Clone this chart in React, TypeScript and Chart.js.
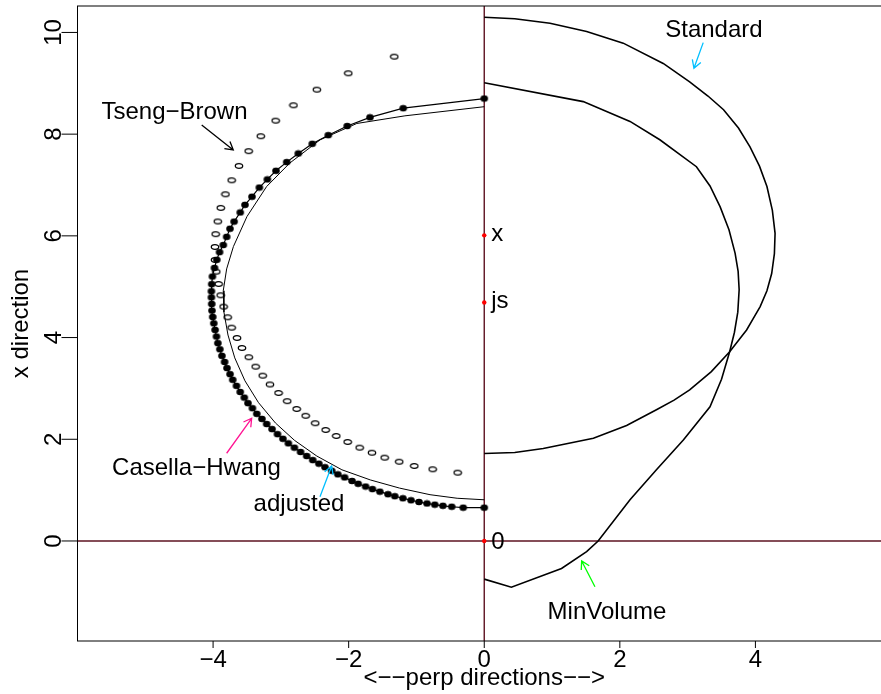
import React, { useEffect, useRef } from 'react';
import { Chart, registerables } from 'chart.js';

Chart.register(...registerables);

// ---------------- data ----------------
const xTicks = [-4, -2, 0, 2, 4];
const yTicks = [0, 2, 4, 6, 8, 10];
const xTickLabels = ['\u22124', '\u22122', '0', '2', '4'];
const yTickLabels = ['0', '2', '4', '6', '8', '10'];

const standardX = [0, 0.45, 0.97, 1.51, 2.05, 2.64, 3.03, 3.3, 3.53, 3.75, 3.92, 4.06, 4.17, 4.25, 4.29, 4.28, 4.24, 4.17, 4.07, 3.98, 3.87, 3.62, 3.35, 3.03, 2.8, 2.54, 2.1, 1.61, 0.87, 0.45, 0];
const standardY = [10.3, 10.27, 10.18, 10.02, 9.79, 9.39, 9.03, 8.75, 8.48, 8.12, 7.75, 7.37, 6.97, 6.5, 6.05, 5.65, 5.26, 4.92, 4.61, 4.4, 4.15, 3.72, 3.33, 2.97, 2.77, 2.58, 2.27, 2.02, 1.82, 1.74, 1.72];

const minVolX = [0, 1.46, 2.15, 2.59, 3.13, 3.33, 3.48, 3.61, 3.7, 3.745, 3.76, 3.74, 3.69, 3.62, 3.5, 3.33, 2.94, 2.54, 2.15, 1.68, 1.51, 1.14, 0.4, 0];
const minVolY = [9.01, 8.64, 8.25, 7.89, 7.36, 6.98, 6.57, 6.12, 5.66, 5.3, 4.94, 4.5, 4.1, 3.72, 3.18, 2.64, 1.99, 1.4, 0.81, 0, -0.21, -0.54, -0.91, -0.75];

const chX = [0, -1.195, -1.686, -2.021, -2.301, -2.537, -2.743, -2.914, -3.072, -3.2, -3.318, -3.426, -3.53, -3.6, -3.69, -3.751, -3.8, -3.85, -3.905, -3.945, -3.98, -4.01, -4.02, -4.025, -4.025, -4.02, -4.016, -4.005, -3.99, -3.97, -3.95, -3.93, -3.9, -3.87, -3.83, -3.795, -3.75, -3.71, -3.655, -3.6, -3.54, -3.485, -3.42, -3.355, -3.28, -3.21, -3.13, -3.05, -2.97, -2.89, -2.8, -2.71, -2.62, -2.53, -2.44, -2.35, -2.25, -2.16, -2.06, -1.95, -1.86, -1.75, -1.65, -1.54, -1.42, -1.32, -1.2, -1.08, -0.963, -0.845, -0.73, -0.61, -0.48, -0.31, 0];
const chY = [8.7, 8.51, 8.33, 8.16, 7.98, 7.81, 7.62, 7.45, 7.28, 7.11, 6.95, 6.77, 6.61, 6.46, 6.28, 6.14, 5.98, 5.82, 5.68, 5.53, 5.37, 5.2, 5.05, 4.91, 4.79, 4.66, 4.53, 4.405, 4.28, 4.15, 4.02, 3.89, 3.77, 3.64, 3.52, 3.4, 3.28, 3.17, 3.05, 2.93, 2.82, 2.71, 2.61, 2.5, 2.4, 2.3, 2.2, 2.1, 2.01, 1.92, 1.835, 1.75, 1.67, 1.59, 1.52, 1.45, 1.38, 1.31, 1.25, 1.18, 1.125, 1.07, 1.02, 0.97, 0.92, 0.88, 0.84, 0.8, 0.767, 0.737, 0.714, 0.692, 0.673, 0.655, 0.655];

const adjX = [0, -1.17, -1.88, -2.42, -2.87, -3.21, -3.5, -3.7, -3.8, -3.85, -3.84, -3.78, -3.68, -3.53, -3.33, -3.08, -2.8, -2.47, -2.1, -1.68, -1.25, -0.8, -0.4, 0];
const adjY = [8.54, 8.36, 8.21, 7.89, 7.43, 6.97, 6.38, 5.79, 5.35, 4.92, 4.5, 4.05, 3.6, 3.15, 2.72, 2.32, 1.98, 1.67, 1.4, 1.2, 1.04, 0.91, 0.84, 0.81];

const tbX = [-1.327, -2.006, -2.469, -2.814, -3.077, -3.296, -3.475, -3.618, -3.726, -3.817, -3.886, -3.931, -3.962, -3.972, -3.972, -3.953, -3.919, -3.888, -3.845, -3.785, -3.726, -3.647, -3.574, -3.473, -3.372, -3.268, -3.161, -3.035, -2.906, -2.767, -2.634, -2.493, -2.339, -2.183, -2.015, -1.838, -1.656, -1.469, -1.254, -1.032, -0.761, -0.392];
const tbY = [9.524, 9.197, 8.875, 8.568, 8.265, 7.959, 7.666, 7.375, 7.093, 6.818, 6.549, 6.283, 6.033, 5.782, 5.526, 5.296, 5.054, 4.832, 4.608, 4.399, 4.195, 3.992, 3.795, 3.613, 3.428, 3.251, 3.078, 2.911, 2.749, 2.596, 2.462, 2.315, 2.183, 2.065, 1.947, 1.835, 1.736, 1.638, 1.559, 1.475, 1.41, 1.343];

const refPtX = [0, 0, 0];
const refPtY = [0, 4.69, 6.01];
const refPtLabels = ['0', 'js', 'x'];

const noteLabels = ['Tseng\u2212Brown', 'Casella\u2212Hwang', 'adjusted', 'Standard', 'MinVolume'];
const noteX = [-4.569, -4.245, -2.733, 3.388, 1.81];
const noteY = [8.299, 1.298, 0.59, 9.906, -1.54];

const arrowFromX = [-4.168, -3.8, -2.423, 3.23, 1.633];
const arrowFromY = [8.181, 1.725, 0.871, 9.8, -0.899];
const arrowToX = [-3.702, -3.431, -2.251, 3.093, 1.437];
const arrowToY = [7.689, 2.413, 1.475, 9.296, -0.393];
const arrowColors = ['#000000', '#FF1493', '#00BFFF', '#00BFFF', '#00FF00'];

const xTitle = '<\u2212\u2212perp directions\u2212\u2212>';
const yTitle = 'x direction';

const toPts = (xs: number[], ys: number[]) => xs.map((x, i) => ({ x, y: ys[i] }));

const FONT = '"Liberation Sans", Arial, Helvetica, sans-serif';

function makeDot(filled: boolean): HTMLCanvasElement {
  const c = document.createElement('canvas');
  c.width = 10;
  c.height = 8;
  const g = c.getContext('2d')!;
  g.beginPath();
  if (filled) {
    g.ellipse(5, 4, 3.8, 3.3, 0, 0, Math.PI * 2);
    g.fillStyle = '#000';
    g.fill();
  } else {
    g.ellipse(5, 4, 3.7, 2.3, 0, 0, Math.PI * 2);
    g.strokeStyle = '#000';
    g.lineWidth = 1.3;
    g.stroke();
  }
  return c;
}

const rPlugin = {
  id: 'rstyle',
  beforeDatasetsDraw(chart: any) {
    const { ctx, chartArea: a, scales } = chart;
    const xs = scales.x, ys = scales.y;
    ctx.save();
    ctx.strokeStyle = '#5e1322';
    ctx.lineWidth = 1.4;
    const px0 = xs.getPixelForValue(0);
    const py0 = ys.getPixelForValue(0);
    ctx.beginPath();
    ctx.moveTo(px0, a.top);
    ctx.lineTo(px0, a.bottom);
    ctx.moveTo(a.left, py0);
    ctx.lineTo(a.right, py0);
    ctx.stroke();
    ctx.restore();
  },
  afterDraw(chart: any) {
    const { ctx, chartArea: a, scales } = chart;
    const xs = scales.x, ys = scales.y;
    ctx.save();
    // box
    ctx.strokeStyle = '#000';
    ctx.lineWidth = 1;
    ctx.strokeRect(a.left, a.top, a.right - a.left, a.bottom - a.top);
    // x ticks
    ctx.fillStyle = '#000';
    ctx.font = `24px ${FONT}`;
    ctx.textAlign = 'center';
    ctx.textBaseline = 'alphabetic';
    xTicks.forEach((v, i) => {
      const px = xs.getPixelForValue(v);
      ctx.beginPath();
      ctx.moveTo(px, a.bottom);
      ctx.lineTo(px, a.bottom + 7);
      ctx.stroke();
      ctx.fillText(xTickLabels[i], px, a.bottom + 26);
    });
    // y ticks
    yTicks.forEach((v, i) => {
      const py = ys.getPixelForValue(v);
      ctx.beginPath();
      ctx.moveTo(a.left, py);
      ctx.lineTo(a.left - 16, py);
      ctx.stroke();
      ctx.save();
      ctx.translate(a.left - 16.5, py);
      ctx.rotate(-Math.PI / 2);
      ctx.fillText(yTickLabels[i], 0, 0);
      ctx.restore();
    });
    // axis titles
    ctx.fillText(xTitle, xs.getPixelForValue(0), a.bottom + 44);
    ctx.save();
    ctx.translate(a.left - 50, (a.top + a.bottom) / 2);
    ctx.rotate(-Math.PI / 2);
    ctx.fillText(yTitle, 0, 0);
    ctx.restore();

    // reference point labels
    ctx.textAlign = 'left';
    refPtLabels.forEach((t, i) => {
      const px = xs.getPixelForValue(refPtX[i]);
      const py = ys.getPixelForValue(refPtY[i]);
      const off = t === '0' ? 8.5 : 6;
      ctx.fillText(t, px + 7, py + off);
    });

    // annotations
    ctx.textAlign = 'center';
    noteLabels.forEach((t, i) => {
      ctx.fillText(t, xs.getPixelForValue(noteX[i]), ys.getPixelForValue(noteY[i]));
    });

    // arrows
    arrowColors.forEach((col, i) => {
      const x1 = xs.getPixelForValue(arrowFromX[i]);
      const y1 = ys.getPixelForValue(arrowFromY[i]);
      const x2 = xs.getPixelForValue(arrowToX[i]);
      const y2 = ys.getPixelForValue(arrowToY[i]);
      const ang = Math.atan2(y2 - y1, x2 - x1);
      const L = 9;
      const sp = Math.PI / 6;
      ctx.strokeStyle = col;
      ctx.lineWidth = 1.3;
      ctx.beginPath();
      ctx.moveTo(x1, y1);
      ctx.lineTo(x2, y2);
      ctx.moveTo(x2 - L * Math.cos(ang - sp), y2 - L * Math.sin(ang - sp));
      ctx.lineTo(x2, y2);
      ctx.lineTo(x2 - L * Math.cos(ang + sp), y2 - L * Math.sin(ang + sp));
      ctx.stroke();
    });
    ctx.restore();
  },
};

export default function App() {
  const ref = useRef<HTMLCanvasElement>(null);
  useEffect(() => {
    const canvas = ref.current!;
    const filledDot = makeDot(true);
    const openDot = makeDot(false);
    const lineDs = (data: any, width: number) => ({
      data,
      showLine: true,
      borderColor: '#000',
      borderWidth: width,
      pointRadius: 0,
      tension: 0,
      fill: false,
    });
    const chart = new Chart(canvas, {
      type: 'scatter',
      data: {
        datasets: [
          { ...lineDs(toPts(standardX, standardY), 1.6), label: 'Standard' },
          { ...lineDs(toPts(minVolX, minVolY), 1.6), label: 'MinVolume' },
          { ...lineDs(toPts(adjX, adjY), 1), label: 'adjusted' },
          {
            label: 'Casella-Hwang',
            data: toPts(chX, chY),
            showLine: true,
            borderColor: '#000',
            borderWidth: 1.2,
            pointStyle: filledDot as any,
            pointRadius: 3,
            tension: 0,
          },
          {
            label: 'Tseng-Brown',
            data: toPts(tbX, tbY),
            showLine: false,
            pointStyle: openDot as any,
            pointRadius: 3,
          },
          {
            label: 'ref',
            data: toPts(refPtX, refPtY),
            showLine: false,
            pointStyle: 'circle',
            pointRadius: 2.2,
            backgroundColor: '#ff0000',
            borderColor: '#ff0000',
            borderWidth: 0,
          },
        ] as any,
      },
      options: {
        responsive: false,
        animation: false,
        devicePixelRatio: 1,
        events: [],
        layout: { padding: { left: 77.5, top: 6, right: 9, bottom: 53 } },
        scales: {
          x: { type: 'linear', min: -6, max: 6, display: false },
          y: { type: 'linear', min: -1.967, max: 10.52, display: false },
        },
        plugins: { legend: { display: false }, tooltip: { enabled: false } },
      } as any,
      plugins: [rPlugin],
    });
    return () => chart.destroy();
  }, []);

  return (
    <div style={{ position: 'fixed', left: 0, top: 0, width: 881, height: 694, overflow: 'hidden', background: '#fff' }}>
      <canvas ref={ref} width={900} height={694} style={{ display: 'block' }} />
    </div>
  );
}
